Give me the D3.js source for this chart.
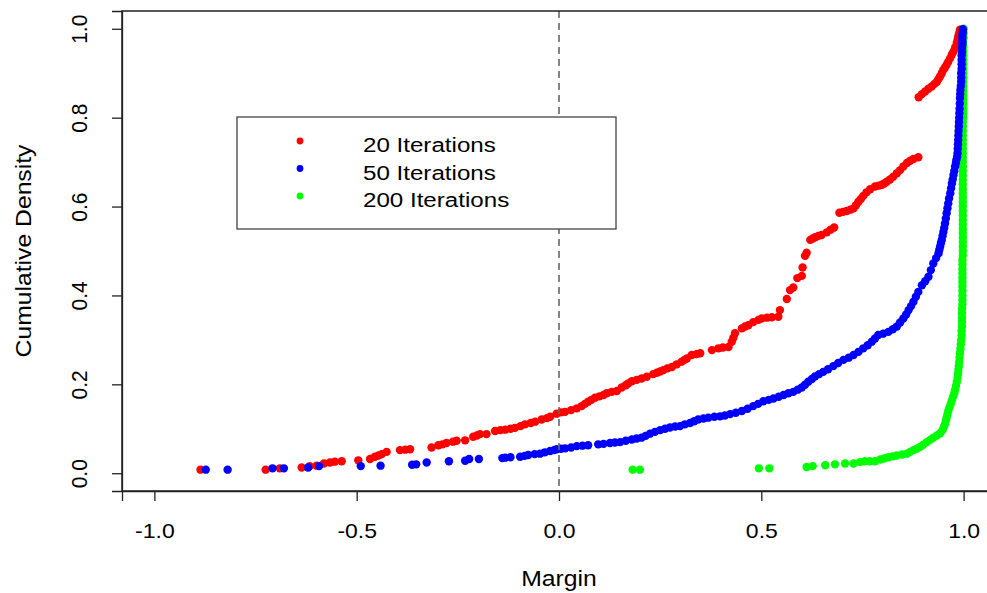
<!DOCTYPE html>
<html><head><meta charset="utf-8">
<script src="https://cdn.jsdelivr.net/npm/d3@7"></script>
<style>html,body{margin:0;padding:0;background:#fff;overflow:hidden}</style>
</head><body><svg id="chart" width="987" height="593"></svg>
<script>
const xTicks = [-1.0, -0.5, 0.0, 0.5, 1.0];
const yTicks = [0.0, 0.2, 0.4, 0.6, 0.8, 1.0];
const seriesNames = ["20 Iterations", "50 Iterations", "200 Iterations"];
const seriesColors = ["#FF0000", "#0000FF", "#00FF00"];
const xTitle = "Margin";
const yTitle = "Cumulative Density";

const redMargin = [-0.886,-0.725,-0.690,-0.636,-0.616,-0.599,-0.581,-0.566,-0.554,-0.537,
-0.496,-0.467,-0.455,-0.446,-0.438,-0.426,-0.393,-0.380,-0.368,-0.315,
-0.298,-0.288,-0.278,-0.262,-0.253,-0.232,-0.212,-0.203,-0.195,-0.179,
-0.158,-0.145,-0.133,-0.120,-0.109,-0.095,-0.084,-0.070,-0.059,-0.043,
-0.030,-0.022,-0.006,0.005,0.015,0.030,0.044,0.056,0.064,0.072,
0.080,0.089,0.100,0.110,0.118,0.130,0.143,0.155,0.165,0.171,
0.180,0.192,0.204,0.217,0.233,0.242,0.250,0.258,0.268,0.279,
0.291,0.303,0.310,0.316,0.328,0.340,0.349,0.378,0.394,0.405,
0.419,0.427,0.431,0.435,0.452,0.460,0.468,0.480,0.493,0.501,
0.514,0.526,0.542,0.546,0.563,0.571,0.579,0.589,0.600,0.602,
0.608,0.612,0.621,0.627,0.633,0.641,0.649,0.662,0.671,0.680,
0.693,0.702,0.711,0.720,0.728,0.734,0.740,0.746,0.752,0.760,
0.769,0.781,0.790,0.798,0.804,0.810,0.818,0.826,0.835,0.843,
0.851,0.860,0.868,0.876,0.888,0.889,0.897,0.905,0.913,0.921,
0.928,0.934,0.938,0.942,0.946,0.950,0.954,0.958,0.962,0.967,
0.971,0.975,0.979,0.983,0.985,0.987,0.989,0.991];
const redCum = [0.008,0.008,0.011,0.013,0.016,0.017,0.022,0.024,0.026,0.027,
0.029,0.032,0.037,0.040,0.043,0.048,0.052,0.053,0.054,0.058,
0.063,0.065,0.068,0.071,0.073,0.074,0.082,0.085,0.088,0.088,
0.095,0.097,0.098,0.100,0.102,0.106,0.110,0.113,0.116,0.121,
0.124,0.127,0.134,0.137,0.138,0.142,0.146,0.151,0.156,0.161,
0.165,0.170,0.173,0.176,0.180,0.183,0.185,0.193,0.198,0.202,
0.207,0.210,0.213,0.217,0.223,0.226,0.229,0.232,0.236,0.239,
0.245,0.251,0.255,0.258,0.266,0.268,0.270,0.277,0.281,0.283,
0.284,0.296,0.305,0.315,0.326,0.330,0.333,0.340,0.345,0.348,
0.350,0.351,0.352,0.367,0.392,0.412,0.418,0.439,0.444,0.463,
0.489,0.496,0.525,0.528,0.531,0.534,0.536,0.542,0.548,0.553,
0.586,0.588,0.590,0.593,0.596,0.603,0.611,0.617,0.624,0.632,
0.639,0.645,0.647,0.649,0.652,0.656,0.661,0.667,0.675,0.682,
0.690,0.698,0.703,0.707,0.711,0.846,0.853,0.859,0.865,0.870,
0.876,0.881,0.887,0.893,0.900,0.908,0.913,0.919,0.926,0.934,
0.942,0.949,0.958,0.968,0.975,0.983,0.990,0.998];

const blueMargin = [-0.873,-0.819,-0.708,-0.680,-0.620,-0.593,-0.490,-0.441,-0.363,-0.353,
-0.327,-0.272,-0.232,-0.222,-0.198,-0.140,-0.133,-0.120,-0.096,-0.085,
-0.076,-0.060,-0.047,-0.035,-0.022,-0.012,-0.006,0.005,0.015,0.030,
0.044,0.058,0.072,0.097,0.110,0.126,0.138,0.151,0.165,0.180,
0.192,0.204,0.214,0.225,0.237,0.250,0.262,0.274,0.287,0.299,
0.311,0.324,0.334,0.344,0.357,0.369,0.384,0.398,0.410,0.423,
0.437,0.452,0.466,0.480,0.492,0.505,0.518,0.530,0.543,0.555,
0.567,0.579,0.590,0.600,0.608,0.616,0.625,0.633,0.643,0.653,
0.665,0.678,0.690,0.703,0.716,0.728,0.740,0.752,0.763,0.773,
0.781,0.789,0.801,0.814,0.825,0.835,0.843,0.851,0.858,0.864,
0.870,0.876,0.882,0.888,0.897,0.905,0.913,0.919,0.925,0.932,
0.938,0.940,0.942,0.944,0.946,0.948,0.950,0.952,0.954,0.956,
0.958,0.960,0.962,0.964,0.967,0.969,0.971,0.973,0.975,0.977,
0.979,0.981,0.982,0.984,0.985,0.9855,0.986,0.9865,0.987,0.9875,
0.988,0.9885,0.989,0.9895,0.990,0.9905,0.991,0.9915,0.992,0.993,
0.994,0.994,0.994,0.995,0.995,0.995,0.995,0.996,0.996,0.997,
0.997,0.997,0.997,0.998,0.998];
const blueCum = [0.008,0.008,0.011,0.011,0.013,0.016,0.016,0.017,0.019,0.020,
0.024,0.027,0.028,0.032,0.032,0.034,0.035,0.036,0.037,0.039,
0.041,0.043,0.044,0.047,0.050,0.052,0.054,0.055,0.056,0.058,
0.061,0.062,0.063,0.065,0.066,0.068,0.069,0.070,0.073,0.076,
0.078,0.080,0.084,0.089,0.093,0.097,0.100,0.103,0.105,0.106,
0.110,0.113,0.117,0.121,0.123,0.125,0.127,0.128,0.130,0.133,
0.136,0.140,0.145,0.151,0.156,0.162,0.165,0.168,0.172,0.176,
0.180,0.183,0.188,0.193,0.199,0.206,0.212,0.218,0.223,0.228,
0.234,0.241,0.248,0.255,0.260,0.266,0.273,0.281,0.288,0.296,
0.303,0.311,0.314,0.318,0.324,0.330,0.339,0.348,0.357,0.367,
0.376,0.386,0.397,0.408,0.423,0.432,0.442,0.457,0.472,0.484,
0.495,0.503,0.510,0.518,0.525,0.534,0.543,0.552,0.562,0.573,
0.585,0.596,0.607,0.618,0.630,0.641,0.652,0.661,0.671,0.680,
0.690,0.698,0.705,0.712,0.720,0.730,0.740,0.750,0.760,0.770,
0.780,0.790,0.800,0.810,0.820,0.832,0.844,0.853,0.862,0.871,
0.881,0.890,0.900,0.910,0.920,0.930,0.940,0.948,0.957,0.965,
0.972,0.979,0.986,0.993,0.999];

const greenMargin = [0.182,0.200,0.494,0.520,0.612,0.627,0.658,0.682,0.707,0.728,
0.744,0.756,0.768,0.781,0.794,0.804,0.814,0.825,0.835,0.848,
0.860,0.868,0.876,0.884,0.892,0.900,0.909,0.917,0.925,0.934,
0.942,0.948,0.951,0.954,0.956,0.958,0.960,0.962,0.965,0.968,
0.971,0.974,0.977,0.979,0.981,0.983,0.985,0.986,0.987,0.988,
0.989,0.990,0.991,0.992,0.993,0.994,0.995,0.995,0.996,0.996,
0.996,0.996,0.996,0.997,0.997,0.997,0.997,0.997,0.997,0.997,
0.997,0.997,0.997,0.997,0.998,0.998,0.998,0.998,0.998,0.998,
0.998,0.998,0.998,0.998,0.998,0.998,0.998,0.998,0.998,0.998,
0.998,0.998,0.998,0.998,0.998,0.998,0.998,0.998,0.998,0.998,
0.998,0.998,0.998,0.998,0.998,0.999,0.999,0.999,0.999,0.999,
0.999,0.999,0.999,0.999,0.999,0.999,0.999,0.999,0.999,0.999,
0.999,0.999,0.999,1.000,1.000,1.000];
const greenCum = [0.008,0.008,0.011,0.011,0.014,0.016,0.018,0.020,0.022,0.022,
0.025,0.027,0.027,0.027,0.031,0.033,0.036,0.038,0.040,0.042,
0.044,0.048,0.052,0.055,0.059,0.064,0.070,0.075,0.080,0.085,
0.090,0.097,0.104,0.110,0.118,0.125,0.132,0.140,0.148,0.156,
0.164,0.172,0.180,0.188,0.196,0.205,0.214,0.223,0.232,0.241,
0.250,0.260,0.270,0.280,0.290,0.300,0.310,0.320,0.330,0.340,
0.350,0.360,0.370,0.380,0.390,0.400,0.410,0.420,0.430,0.440,
0.450,0.460,0.470,0.480,0.490,0.500,0.510,0.520,0.530,0.540,
0.550,0.560,0.570,0.580,0.590,0.600,0.610,0.620,0.630,0.640,
0.650,0.660,0.670,0.680,0.690,0.700,0.710,0.720,0.730,0.740,
0.750,0.760,0.770,0.780,0.790,0.800,0.810,0.820,0.830,0.840,
0.850,0.860,0.870,0.880,0.890,0.900,0.910,0.920,0.930,0.940,
0.950,0.960,0.970,0.980,0.990,1.000];

const FONT = "'Liberation Sans', Arial, Helvetica, sans-serif";
const SX = 1.15; // glyph stretch seen in the reference text

const svg = d3.select("#chart");
const x = d3.scaleLinear().domain([-1.08, 1.08]).range([122, 996]);
const y = d3.scaleLinear().domain([-0.04, 1.04]).range([491, 11]);

svg.append("rect").attr("width", 987).attr("height", 593).attr("fill", "#fff");

// Points: red, then green, then blue (blue overlaps green near 1.0)
const series = [
  {m: redMargin, c: redCum, col: seriesColors[0]},
  {m: greenMargin, c: greenCum, col: seriesColors[2]},
  {m: blueMargin, c: blueCum, col: seriesColors[1]}
];
series.forEach(s => {
  const pts = d3.zip(s.m, s.c);
  svg.append("g").selectAll("circle").data(pts).join("circle")
    .attr("cx", d => x(d[0])).attr("cy", d => y(d[1]))
    .attr("r", 4.2).attr("fill", s.col);
});

// dashed vertical at margin 0
svg.append("line")
  .attr("x1", x(0)).attr("x2", x(0)).attr("y1", y.range()[1]).attr("y2", y.range()[0])
  .attr("stroke", "#666").attr("stroke-width", 1.6).attr("stroke-dasharray", "7,5");

// box
svg.append("rect")
  .attr("x", x.range()[0]).attr("y", y.range()[1])
  .attr("width", x.range()[1] - x.range()[0]).attr("height", y.range()[0] - y.range()[1])
  .attr("fill", "none").attr("stroke", "#222").attr("stroke-width", 1.5);

// x axis
const gx = svg.append("g").attr("transform", `translate(0,${y.range()[0]})`)
  .call(d3.axisBottom(x).tickValues(xTicks).tickSize(10).tickFormat(d => d.toFixed(1)));
gx.select(".domain").attr("stroke", "#222").attr("stroke-width", 1.3);
gx.selectAll(".tick line").attr("stroke", "#222").attr("stroke-width", 1.3);
gx.selectAll(".tick text")
  .attr("y", null).attr("dy", null)
  .attr("transform", `translate(0,47) scale(${SX},1)`)
  .attr("font-family", FONT).attr("font-size", 20).attr("fill", "#000")
  .attr("text-anchor", "middle");

// y axis
const gy = svg.append("g").attr("transform", `translate(${x.range()[0]},0)`)
  .call(d3.axisLeft(y).tickValues(yTicks).tickSize(10).tickFormat(d => d.toFixed(1)));
gy.select(".domain").attr("stroke", "#222").attr("stroke-width", 1.3);
gy.selectAll(".tick line").attr("stroke", "#222").attr("stroke-width", 1.3);
gy.selectAll(".tick text")
  .attr("x", null).attr("dy", null)
  .attr("transform", `translate(-35,0) rotate(-90) scale(1.05,1.08)`)
  .attr("font-family", FONT).attr("font-size", 20).attr("fill", "#000")
  .attr("text-anchor", "middle");

// axis titles
svg.append("text").text(xTitle)
  .attr("transform", `translate(${(x.range()[0] + x.range()[1]) / 2},586) scale(${SX},1)`)
  .attr("text-anchor", "middle").attr("font-family", FONT).attr("font-size", 21.5);
svg.append("text").text(yTitle)
  .attr("transform", `translate(31,${(y.range()[0] + y.range()[1]) / 2}) rotate(-90) scale(${SX},1)`)
  .attr("text-anchor", "middle").attr("font-family", FONT).attr("font-size", 21.5);

// legend
const lg = svg.append("g");
lg.append("rect").attr("x", 237).attr("y", 117).attr("width", 379).attr("height", 112)
  .attr("fill", "#fff").attr("stroke", "#444").attr("stroke-width", 1.3);
seriesNames.forEach((name, i) => {
  const cy = 141 + i * 27.5;
  lg.append("circle").attr("cx", 300).attr("cy", cy).attr("r", 3.4).attr("fill", seriesColors[i]);
  lg.append("text").text(name)
    .attr("transform", `translate(363,${cy + 11}) scale(${SX},1)`)
    .attr("font-family", FONT).attr("font-size", 21).attr("fill", "#000");
});
</script></body></html>
